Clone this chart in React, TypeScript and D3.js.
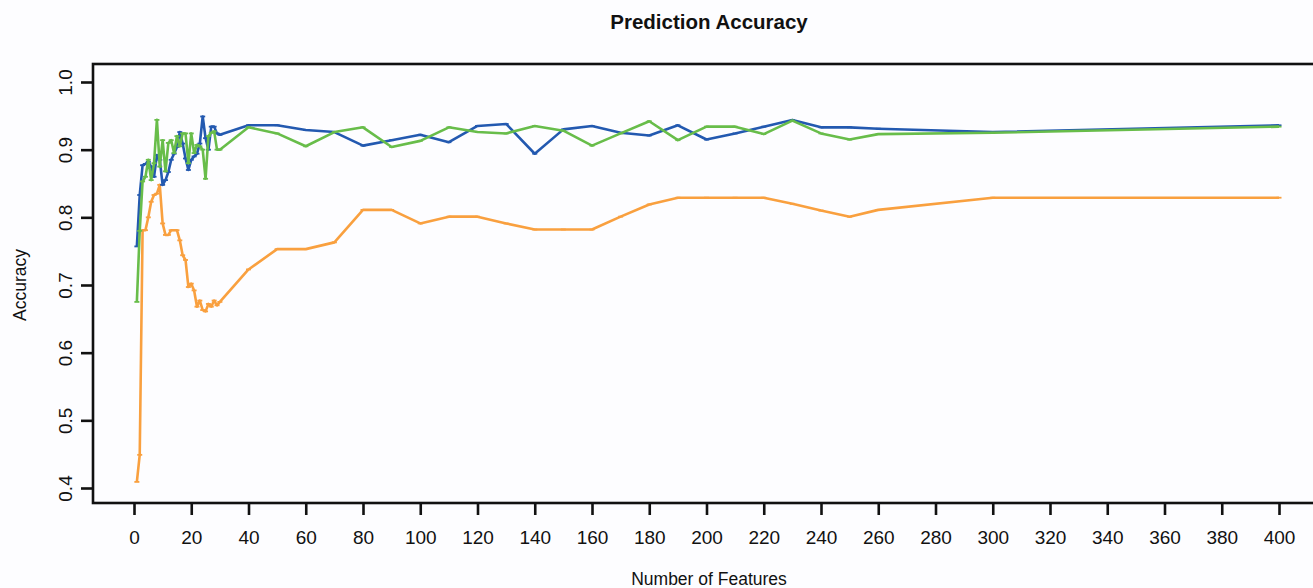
import React, { useEffect, useRef } from 'react';
import * as d3 from 'd3';

// number of features used for each model run
const featureCounts = [
  1, 2, 3, 4, 5, 6, 7, 8, 9, 10, 11, 12, 13, 14, 15, 16, 17, 18, 19, 20,
  21, 22, 23, 24, 25, 26, 27, 28, 29, 30,
  40, 50, 60, 70, 80, 90, 100, 110, 120, 130, 140, 150, 160, 170, 180, 190,
  200, 210, 220, 230, 240, 250, 260, 300, 400,
];

const blueAcc = [
  0.757, 0.833, 0.877, 0.879, 0.882, 0.875, 0.86, 0.892, 0.885, 0.848,
  0.855, 0.867, 0.885, 0.894, 0.904, 0.926, 0.909, 0.887, 0.87, 0.885,
  0.89, 0.894, 0.909, 0.949, 0.917, 0.9, 0.934, 0.934, 0.924, 0.922,
  0.936, 0.936, 0.929, 0.926, 0.906, 0.914, 0.922, 0.911, 0.935, 0.938,
  0.894, 0.93, 0.935, 0.925, 0.921, 0.936, 0.915, 0.924, 0.934, 0.944,
  0.933, 0.933, 0.931, 0.926, 0.936,
];

const greenAcc = [
  0.675, 0.78, 0.853, 0.86, 0.885, 0.855, 0.88, 0.944, 0.875, 0.914,
  0.868, 0.91, 0.914, 0.895, 0.92, 0.905, 0.924, 0.924, 0.88, 0.924,
  0.895, 0.907, 0.905, 0.9, 0.857, 0.92, 0.925, 0.927, 0.9, 0.9,
  0.933, 0.924, 0.905, 0.926, 0.933, 0.904, 0.913, 0.933, 0.926, 0.924,
  0.935, 0.928, 0.906, 0.924, 0.942, 0.914, 0.934, 0.934, 0.923, 0.943,
  0.924, 0.915, 0.923, 0.925, 0.934,
];

const orangeAcc = [
  0.409, 0.449, 0.781, 0.781, 0.8, 0.823, 0.833, 0.835, 0.848, 0.791,
  0.774, 0.774, 0.781, 0.781, 0.781, 0.766, 0.744, 0.737, 0.697, 0.702,
  0.692, 0.668, 0.677, 0.663, 0.661, 0.672, 0.668, 0.677, 0.67, 0.675,
  0.723, 0.753, 0.753, 0.763, 0.811, 0.811, 0.791, 0.801, 0.801, 0.791,
  0.782, 0.782, 0.782, 0.801, 0.819, 0.829, 0.829, 0.829, 0.829, 0.82,
  0.81, 0.801, 0.811, 0.829, 0.829,
];

const xTicks = d3.range(0, 401, 20);
const yTicks = [0.4, 0.5, 0.6, 0.7, 0.8, 0.9, 1.0];

const W = 1313;
const H = 588;

const App = () => {
  const ref = useRef<SVGSVGElement>(null);

  useEffect(() => {
    const svg = d3.select(ref.current);
    svg.selectAll('*').remove();

    const x = d3.scaleLinear().domain([0, 400]).range([134, 1279]);
    const y = d3.scaleLinear().domain([0.4, 1.0]).range([488, 82]);
    const font = 'Liberation Sans, Arial, Helvetica, sans-serif';

    svg.append('rect').attr('width', W).attr('height', H).attr('fill', '#fdfdff');

    // series
    const series = [
      { vals: orangeAcc, color: '#f9a03f' },
      { vals: blueAcc, color: '#2359b0' },
      { vals: greenAcc, color: '#68bd4a' },
    ];
    const line = d3
      .line<number>()
      .x((_, i) => x(featureCounts[i]))
      .y((d) => y(d));

    series.forEach((s) => {
      svg
        .append('path')
        .attr('d', line(s.vals))
        .attr('fill', 'none')
        .attr('stroke', s.color)
        .attr('stroke-width', 2.6)
        .attr('stroke-linejoin', 'round');
      svg
        .append('g')
        .selectAll('line')
        .data(s.vals)
        .join('line')
        .attr('x1', (_, i) => x(featureCounts[i]) - 2.5)
        .attr('x2', (_, i) => x(featureCounts[i]) + 2.5)
        .attr('y1', (d) => y(d))
        .attr('y2', (d) => y(d))
        .attr('stroke', s.color)
        .attr('stroke-width', 1.8);
    });

    // plot box (right edge falls outside the picture)
    svg
      .append('rect')
      .attr('x', 93)
      .attr('y', 64)
      .attr('width', 1232)
      .attr('height', 439)
      .attr('fill', 'none')
      .attr('stroke', '#111')
      .attr('stroke-width', 2.6);

    // x axis
    const gx = svg
      .append('g')
      .attr('transform', 'translate(0, 503)')
      .call(d3.axisBottom(x).tickValues(xTicks).tickSize(12).tickPadding(16).tickSizeOuter(0));
    gx.select('.domain').remove();
    gx.selectAll('.tick line').attr('stroke', '#111').attr('stroke-width', 2.6);
    gx.selectAll('.tick text')
      .attr('font-family', font)
      .attr('font-size', 19)
      .attr('fill', '#111');

    // y axis with rotated labels
    const gy = svg
      .append('g')
      .attr('transform', 'translate(93, 0)')
      .call(
        d3
          .axisLeft(y)
          .tickValues(yTicks)
          .tickFormat(d3.format('.1f'))
          .tickSize(12)
          .tickSizeOuter(0)
      );
    gy.select('.domain').remove();
    gy.selectAll('.tick line').attr('stroke', '#111').attr('stroke-width', 2.6);
    gy.selectAll('.tick text')
      .attr('font-family', font)
      .attr('font-size', 19)
      .attr('fill', '#111')
      .attr('x', 0)
      .attr('dy', 0)
      .attr('text-anchor', 'middle')
      .attr('transform', 'translate(-21, 0) rotate(-90)');

    // titles
    svg
      .append('text')
      .attr('x', 709)
      .attr('y', 29)
      .attr('text-anchor', 'middle')
      .attr('font-family', font)
      .attr('font-weight', 'bold')
      .attr('font-size', 20.5)
      .attr('fill', '#111')
      .text('Prediction Accuracy');

    svg
      .append('text')
      .attr('x', 709)
      .attr('y', 585)
      .attr('text-anchor', 'middle')
      .attr('font-family', font)
      .attr('font-size', 17.5)
      .attr('fill', '#111')
      .text('Number of Features');

    svg
      .append('text')
      .attr('transform', 'translate(26, 285) rotate(-90)')
      .attr('text-anchor', 'middle')
      .attr('font-family', font)
      .attr('font-size', 17.5)
      .attr('fill', '#111')
      .text('Accuracy');
  }, []);

  return (
    <svg
      ref={ref}
      width={W}
      height={H}
      style={{ position: 'absolute', left: 0, top: 0, display: 'block' }}
    />
  );
};

export default App;
